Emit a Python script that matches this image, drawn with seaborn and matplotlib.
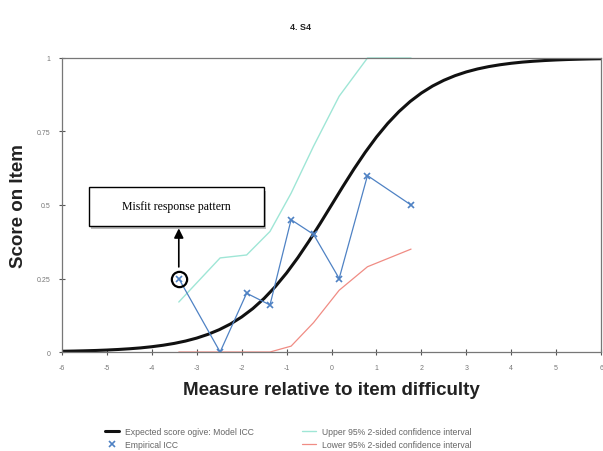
import matplotlib
matplotlib.use("Agg")
import matplotlib.pyplot as plt
import seaborn as sns
import pandas as pd
from matplotlib.lines import Line2D
from matplotlib.patches import Rectangle

# values
measure_grid = [-6, -5.75, -5.5, -5.25, -5, -4.75, -4.5, -4.25, -4, -3.75,
                -3.5, -3.25, -3, -2.75, -2.5, -2.25, -2, -1.75, -1.5, -1.25,
                -1, -0.75, -0.5, -0.25, 0, 0.25, 0.5, 0.75, 1, 1.25, 1.5,
                1.75, 2, 2.25, 2.5, 2.75, 3, 3.25, 3.5, 3.75, 4, 4.25, 4.5,
                4.75, 5, 5.25, 5.5, 5.75, 6]
model_icc = [0.0025, 0.0032, 0.0041, 0.0052, 0.0067, 0.0086, 0.0110, 0.0140,
             0.0180, 0.0230, 0.0293, 0.0373, 0.0474, 0.0601, 0.0759, 0.0953,
             0.1192, 0.1480, 0.1824, 0.2227, 0.2689, 0.3208, 0.3775, 0.4378,
             0.5, 0.5622, 0.6225, 0.6792, 0.7311, 0.7773, 0.8176, 0.8520,
             0.8808, 0.9047, 0.9241, 0.9399, 0.9526, 0.9627, 0.9707, 0.9770,
             0.9820, 0.9860, 0.9890, 0.9914, 0.9933, 0.9948, 0.9959, 0.9968,
             0.9975]

emp_measure = [-3.4, -2.48, -1.89, -1.37, -0.9, -0.4, 0.17, 0.8, 1.77]
emp_score = [0.25, 0.0, 0.2, 0.16, 0.45, 0.4, 0.25, 0.6, 0.5]
upper_ci = [0.17, 0.32, 0.33, 0.41, 0.54, 0.70, 0.87, 1.0, 1.0]
lower_ci = [0.0, 0.0, 0.0, 0.0, 0.02, 0.10, 0.21, 0.29, 0.35]

x_ticks = list(range(-6, 7))
y_ticks = [0, 0.25, 0.5, 0.75, 1]
y_tick_labels = ["0", "0.25", "0.5", "0.75", "1"]

model_df = pd.DataFrame({"measure": measure_grid, "score": model_icc})
emp_df = pd.DataFrame({"measure": emp_measure, "score": emp_score,
                       "upper": upper_ci, "lower": lower_ci})

sns.set_theme(style="white")
plt.rcParams["font.family"] = ["Liberation Sans", "DejaVu Sans"]

fig = plt.figure(figsize=(6.03, 4.52), dpi=100)
ax = fig.add_axes([0.1028, 0.219, 0.894, 0.6505])

c_model = "#111111"
c_emp = "#4f82c4"
c_up = "#9fe6d6"
c_low = "#f08c84"

sns.lineplot(data=emp_df, x="measure", y="upper", ax=ax, color=c_up, lw=1.0,
             clip_on=False)
sns.lineplot(data=emp_df, x="measure", y="lower", ax=ax, color=c_low, lw=0.9,
             clip_on=False)
sns.lineplot(data=model_df, x="measure", y="score", ax=ax, color=c_model, lw=2.2)
sns.lineplot(data=emp_df, x="measure", y="score", ax=ax, color=c_emp, lw=0.9,
             marker="x", markersize=4, markeredgewidth=1.2, markeredgecolor=c_emp)

# circle around the misfitting point
ax.plot(emp_measure[0], emp_score[0], marker="o", markersize=11,
        markerfacecolor="none", markeredgecolor="black", markeredgewidth=1.6,
        zorder=6)

ax.set_xlim(-6, 6)
ax.set_ylim(0, 1)
ax.set_xticks(x_ticks)
ax.set_xticklabels([str(t) for t in x_ticks])
ax.set_yticks(y_ticks)
ax.set_yticklabels(y_tick_labels)
ax.tick_params(axis="both", direction="inout", length=5, width=0.8,
               colors="#555555", labelsize=5, labelcolor="#777777", pad=6)
ax.tick_params(bottom=True, left=True)
for s in ax.spines.values():
    s.set_color("#777777")
    s.set_linewidth(0.9)

ax.set_xlabel("Measure relative to item difficulty", fontsize=13.5,
              fontweight="bold", color="#222222", labelpad=7)
ax.set_ylabel("Score on Item", fontsize=13.5, fontweight="bold",
              color="#222222", labelpad=7)

fig.text(301 / 603, 1 - 27 / 452, "4. S4", fontsize=6.5, fontweight="bold",
         ha="center", va="center", color="#222222")

# annotation box with shadow
bx0, bx1, by0, by1 = -5.40, -1.50, 0.43, 0.56
ax.add_patch(Rectangle((bx0 + 0.05, by0 - 0.012), bx1 - bx0, by1 - by0,
                       facecolor="#bbbbbb", edgecolor="none", zorder=7))
ax.add_patch(Rectangle((bx0, by0), bx1 - bx0, by1 - by0, facecolor="white",
                       edgecolor="black", lw=1.0, zorder=8))
ax.text((bx0 + bx1) / 2, (by0 + by1) / 2, "Misfit response pattern",
        family="Liberation Serif", fontsize=8.5, ha="center", va="center",
        color="black", zorder=9)
ax.annotate("", xy=(emp_measure[0], by0), xytext=(emp_measure[0], 0.28),
            arrowprops=dict(arrowstyle="-|>", color="black", lw=1.2,
                            mutation_scale=14), zorder=9)

handles = [
    Line2D([], [], color=c_model, lw=2.2),
    Line2D([], [], color=c_emp, marker="x", lw=0, markersize=4,
           markeredgewidth=1.2),
    Line2D([], [], color=c_up, lw=1.0),
    Line2D([], [], color=c_low, lw=0.9),
]
labels = ["Expected score ogive: Model ICC", "Empirical ICC",
          "Upper 95% 2-sided confidence interval",
          "Lower 95% 2-sided confidence interval"]
leg = fig.legend(handles, labels, ncol=2, frameon=False, fontsize=6.2,
                 loc="upper left", bbox_to_anchor=(101 / 603, 1 - 424 / 452),
                 handlelength=1.6, handletextpad=0.7, columnspacing=5.6,
                 labelspacing=0.45, borderpad=0)
for t in leg.get_texts():
    t.set_color("#666666")

fig.savefig("out.png", dpi=100)
